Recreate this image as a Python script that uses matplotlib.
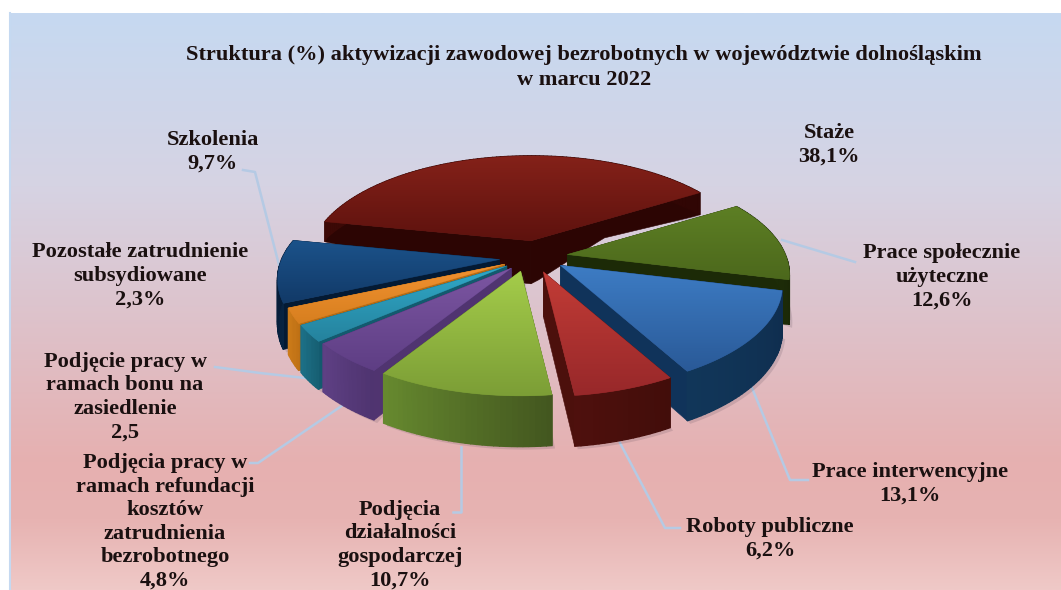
import matplotlib
matplotlib.use("Agg")
import matplotlib.pyplot as plt
import numpy as np
from matplotlib.colors import LinearSegmentedColormap, to_rgb
from matplotlib.patches import Polygon

# chart values
categories = ["Staże", "Prace społecznie użyteczne", "Prace interwencyjne", "Roboty publiczne",
              "Podjęcia działalności gospodarczej", "Podjęcia pracy w ramach refundacji",
              "Podjęcie pracy w ramach bonu", "Pozostałe zatrudnienie subsydiowane", "Szkolenia"]
values = [38.1, 12.6, 13.1, 6.2, 10.7, 4.8, 2.5, 2.3, 9.7]
labels = ["Staże\n38,1%", "Prace społecznie\nużyteczne\n12,6%", "Prace interwencyjne\n13,1%",
          "Roboty publiczne\n6,2%", "Podjęcia\ndziałalności\ngospodarczej\n10,7%",
          "Podjęcia pracy w\nramach refundacji\nkosztów\nzatrudnienia\nbezrobotnego\n4,8%",
          "Podjęcie pracy w\nramach bonu na\nzasiedlenie\n2,5",
          "Pozostałe zatrudnienie\nsubsydiowane\n2,3%", "Szkolenia\n9,7%"]
title = "Struktura (%) aktywizacji zawodowej bezrobotnych w województwie dolnośląskim\nw marcu 2022"

# styles per slice
explode = [.19, .16, .15, .15, .13, .13, .13, .13, .14]
nudge = [(8, 1), (3, -1), (4, -2), (3, -1), (-3, 0), (0, 0), (0, 0), (0, 0), (0, 0)]
top_cols = [("#842119", "#5e120e"), ("#5d7f24", "#4c681c"), ("#3d7cc4", "#2a5a98"), ("#c23c36", "#98282a"),
            ("#a4cc4a", "#7c9e36"), ("#7c56a2", "#5e3e84"), ("#30a9c9", "#25839e"), ("#f29231", "#d77f1f"),
            ("#1b528a", "#123a68")]
wall_cols = [("#3c0906", "#300604"), ("#20300a", "#1b2807"), ("#113659", "#0f2d4e"), ("#4e100d", "#420d0a"),
             ("#66892f", "#43571f"), ("#5e4084", "#4f3470"), ("#1c6f86", "#176074"), ("#cb7a19", "#c07216"),
             ("#072342", "#051a33")]
side_cols = ["#2c0503", "#1c2a07", "#10335a", "#4c100c", "#4a6024", "#503470", "#135a6e", "#b56b14", "#041a33"]
label_pos = [(829, 145), (942, 277), (910, 484), (770, 539), (400, 545), (165, 522), (125, 397), (140, 276), (213, 152)]
leaders = [None, [(855, 262), (782, 240)], [(808, 480), (790, 480), (752, 388)],
           [(680, 528), (665, 528), (620, 443)], [(453, 512), (461, 512), (461, 447)],
           [(250, 463), (258, 463), (343, 405)], [(215, 367), (260, 373), (305, 378)], None,
           [(243, 170), (255, 172), (279, 265)]]
draw_order = [0, 1, 8, 7, 6, 5, 2, 3, 4]

center = (530, 258)
A, B, persp = 218, 101, .19
start_angle = 168.7


def project(c, s):
    w = 1 + persp * s
    return A * c / w, -B * s / w


def thick(y):
    # wall height grows towards the viewer
    return np.interp(y, [195, 220, 240, 300, 400], [22, 18, 43, 46, 51])


def mix(a, b, n):
    a, b = np.array(to_rgb(a)), np.array(to_rgb(b))
    return [a + (b - a) * i / max(n - 1, 1) for i in range(n)]


fig = plt.figure(figsize=(10.61, 5.9), dpi=100)
ax = fig.add_axes([0, 0, 1, 1])

bg = LinearSegmentedColormap.from_list("bg", [(0, "#c6d9f1"), (.3, "#d6d3e3"), (.78, "#e6b0b0"), (.88, "#e7b3b2"), (1, "#efc9c7")])
ax.imshow(np.linspace(0, 1, 256).reshape(-1, 1), extent=(9, 1061, 590, 13), cmap=bg, aspect="auto", zorder=0, vmin=0, vmax=1)
ax.plot([10, 10], [13, 590], color="#c5d9f1", lw=1.5, zorder=1)

for pts in leaders:
    if pts:
        ax.plot(*zip(*pts), color="#b5cae4", lw=1.8, zorder=2, solid_joinstyle="round")

angles = start_angle - np.cumsum([0] + values) * 3.6
z = 5
for i in draw_order:
    a1, a2 = np.radians(angles[i]), np.radians(angles[i + 1])
    mid = (a1 + a2) / 2
    ex, ey = project(explode[i] * np.cos(mid), explode[i] * np.sin(mid))
    ax_, ay_ = center[0] + ex + nudge[i][0], center[1] + ey + nudge[i][1]
    th = np.linspace(a1, a2, max(int(values[i] * 3), 8))
    rx, ry = project(np.cos(th), np.sin(th))
    rim_x, rim_y = ax_ + rx, ay_ + ry

    # soft shadow
    sx = np.r_[ax_, rim_x] + 3
    sy = np.r_[ay_, rim_y + thick(rim_y)] + 3
    ax.add_patch(Polygon(np.c_[sx, sy], fc="#5a4a5a", ec="none", alpha=.18, zorder=z))
    z += 1

    # radial walls
    for end_x, end_y in [(rim_x[0], rim_y[0]), (rim_x[-1], rim_y[-1])]:
        ex_ = np.linspace(ax_, end_x, 24)
        ey_ = np.linspace(ay_, end_y, 24)
        poly = np.r_[np.c_[ex_, ey_], np.c_[ex_, ey_ + thick(ey_)][::-1]]
        ax.add_patch(Polygon(poly, fc=side_cols[i], ec=side_cols[i], lw=.4, zorder=z))
        z += 1

    # outer wall, only the part facing us gets the gradient
    shades = mix(wall_cols[i][1], wall_cols[i][0], len(th) - 1)
    if rim_x[0] < rim_x[-1]:
        shades = shades[::-1]
    for k in range(len(th) - 1):
        q = [(rim_x[k], rim_y[k]), (rim_x[k + 1], rim_y[k + 1]),
             (rim_x[k + 1], rim_y[k + 1] + thick(rim_y[k + 1])), (rim_x[k], rim_y[k] + thick(rim_y[k]))]
        ax.add_patch(Polygon(q, fc=shades[k], ec=shades[k], lw=1.0, zorder=z))
    z += 1

    # top face with vertical gradient
    top = np.c_[np.r_[ax_, rim_x], np.r_[ay_, rim_y]]
    edge = Polygon(top, fc=top_cols[i][1], ec=top_cols[i][1], lw=.4, zorder=z)
    ax.add_patch(edge)
    z += 1
    cm = LinearSegmentedColormap.from_list("t%d" % i, top_cols[i])
    im = ax.imshow(np.linspace(0, 1, 64).reshape(-1, 1),
                   extent=(top[:, 0].min(), top[:, 0].max(), top[:, 1].max(), top[:, 1].min()),
                   cmap=cm, aspect="auto", zorder=z, vmin=0, vmax=1)
    im.set_clip_path(Polygon(top, transform=ax.transData))
    z += 1

font = {"family": "Liberation Serif", "weight": "bold", "color": "#1a1010"}
ax.text(584, 67.5, title, ha="center", va="center", fontsize=16.1, linespacing=1.27, zorder=z, **font)
for lab, (x, y) in zip(labels, label_pos):
    ax.text(x, y, lab, ha="center", va="center", fontsize=16.1, linespacing=1.24, zorder=z, **font)

ax.set_xlim(0, 1061)
ax.set_ylim(590, 0)
ax.axis("off")
fig.savefig("out.png", dpi=100, facecolor="white")
